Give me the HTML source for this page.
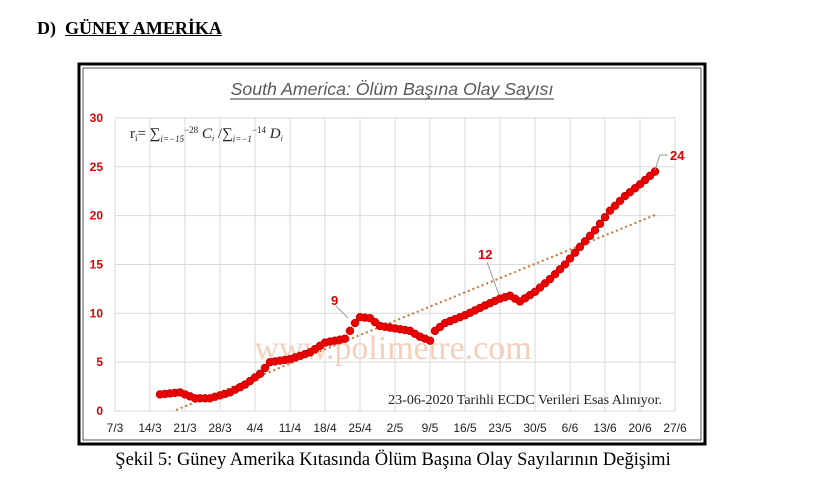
<!DOCTYPE html>
<html><head><meta charset="utf-8"><style>
body{margin:0;background:#fff;width:815px;height:486px;overflow:hidden;position:relative;font-family:"Liberation Serif",serif}
.h{position:absolute;left:37px;top:18px;font-weight:bold;font-size:18px}
.cap{position:absolute;left:0;width:786px;text-align:center;top:450px;font-size:18.5px}
</style></head><body>
<div class="h">D)&nbsp; <u>GÜNEY AMERİKA</u></div>
<svg width="815" height="486" style="position:absolute;left:0;top:0" id="s">
<rect x="79" y="64" width="626" height="380" fill="#fff" stroke="#000" stroke-width="3"/>
<rect x="83" y="68" width="618" height="372" fill="none" stroke="#555" stroke-width="1"/>
<g id="grid" stroke="#d9d9d9" stroke-width="1"></g>
<text x="392" y="95" text-anchor="middle" font-family="Liberation Sans,sans-serif" font-style="italic" font-size="17.7" fill="#595959">South America: Ölüm Başına Olay Sayısı</text>
<line x1="230" y1="99" x2="554" y2="99" stroke="#595959" stroke-width="1.2"/>
<g id="yl" font-family="Liberation Sans,sans-serif" font-weight="bold" font-size="12" fill="#e00000" text-anchor="end"></g>
<g id="xl" font-family="Liberation Sans,sans-serif" font-size="12" fill="#222" text-anchor="middle"></g>
<text x="130" y="138" font-size="15" fill="#222">r<tspan font-size="9" dy="3">i</tspan><tspan dy="-3">= ∑</tspan><tspan font-size="9" dy="4" font-style="italic">i=−15</tspan><tspan font-size="9" dy="-9">−28</tspan><tspan dy="5" font-style="italic"> C</tspan><tspan font-size="8" dy="3" font-style="italic">i</tspan><tspan dy="-3"> /∑</tspan><tspan font-size="9" dy="4" font-style="italic">i=−1</tspan><tspan font-size="9" dy="-9">−14</tspan><tspan dy="5" font-style="italic"> D</tspan><tspan font-size="8" dy="3" font-style="italic">i</tspan></text>
<text x="393" y="359" text-anchor="middle" font-size="34" fill="#f2c4a8" opacity="0.8">www.polimetre.com</text>
<text x="662" y="404" text-anchor="end" font-size="14" fill="#222">23-06-2020 Tarihli ECDC Verileri Esas Alınıyor.</text>
<line x1="176" y1="410" x2="655" y2="215" stroke="#d07030" stroke-width="2" stroke-dasharray="2,3"/>
<g id="pts"></g>
<polyline points="336,306 348,318" stroke="#999" fill="none"/>
<polyline points="487,262 499,295" stroke="#999" fill="none"/>
<polyline points="655,170 660,155 668,155" stroke="#999" fill="none"/>
<g font-family="Liberation Sans,sans-serif" font-weight="bold" font-size="13" fill="#e00000">
<text x="331" y="305">9</text><text x="478" y="259">12</text><text x="670" y="160">24</text></g>
</svg>
<div class="cap">Şekil 5: Güney Amerika Kıtasında Ölüm Başına Olay Sayılarının Değişimi</div>
<script>
var ns="http://www.w3.org/2000/svg";
function el(t,a,p,txt){var e=document.createElementNS(ns,t);for(var k in a)e.setAttribute(k,a[k]);if(txt)e.textContent=txt;document.getElementById(p).appendChild(e);}
function X(d){return 115+5*d}function Y(v){return 411-v*9.77}
for(var i=0;i<=6;i++){el('line',{x1:115,x2:675,y1:Y(i*5),y2:Y(i*5)},'grid');el('text',{x:103,y:Y(i*5)+4},'yl',String(i*5));}
var L=["7/3","14/3","21/3","28/3","4/4","11/4","18/4","25/4","2/5","9/5","16/5","23/5","30/5","6/6","13/6","20/6","27/6"];
for(var i=0;i<L.length;i++){el('line',{x1:X(i*7),x2:X(i*7),y1:Y(30),y2:Y(0)},'grid');el('text',{x:X(i*7),y:432},'xl',L[i]);}
var D=[[9,1.7],[13,1.9],[16,1.3],[19,1.3],[23,1.9],[26,2.7],[29,3.8],[31,5.0],[35,5.3],[39,6.0],[42,7.0],[46,7.4],[48,9.0],[49,9.6],[51,9.5],[53,8.7],[59,8.2],[61,7.6],[63,7.2],[64,8.2],[66,9.0],[70,9.8],[74,10.8],[77,11.5],[79,11.8],[81,11.2],[84,12.2],[87,13.5],[90,15],[93,16.8],[96,18.5],[99,20.5],[102,22.0],[105,23.2],[108,24.5]];
for(var d=9;d<=108;d++){var v;for(var j=0;j<D.length-1;j++){if(d>=D[j][0]&&d<=D[j+1][0]){var t=(d-D[j][0])/(D[j+1][0]-D[j][0]);v=D[j][1]+t*(D[j+1][1]-D[j][1]);break;}}
el('circle',{cx:X(d),cy:Y(v),r:3.8,fill:'#ee0000',stroke:'#c00000','stroke-width':0.8},'pts');}
</script>
</body></html>
